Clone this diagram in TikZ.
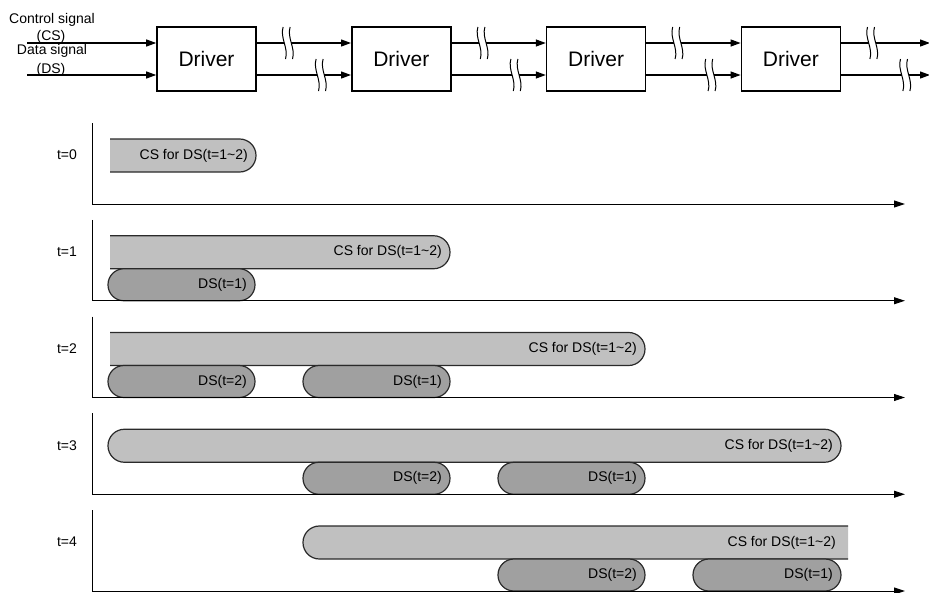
\documentclass[tikz,border=0pt]{standalone}
\usepackage{fontspec}
\setmainfont{Liberation Sans}
\usetikzlibrary{arrows.meta}
\definecolor{csgray}{HTML}{C0C0C0}
\definecolor{dsgray}{HTML}{A0A0A0}
\definecolor{edgec}{HTML}{2A2A2A}
\tikzset{
 driverbox/.style={draw, line width=1.6pt, minimum width=99pt, minimum height=64pt, inner sep=0pt, font=\fontsize{21}{24}\selectfont},
 sigline/.style={line width=1.2pt},
 sigarrow/.style={sigline, -{Triangle[length=10pt,width=7pt]}},
 axisline/.style={line width=1pt, -{Triangle[length=11pt,width=7pt]}},
 csbar/.style={draw=edgec, fill=csgray, line width=1.2pt, rounded corners=16.4pt},
 dsbar/.style={draw=edgec, fill=dsgray, line width=1.2pt, rounded corners=15.9pt},
 barlbl/.style={font=\fontsize{14}{16}\selectfont, anchor=east, inner sep=0pt},
 siglbl/.style={font=\fontsize{14}{16}\selectfont, anchor=base, inner sep=0pt},
 rowlbl/.style={font=\fontsize{14}{16}\selectfont, inner sep=0pt},
 brk/.pic={\foreach \dx in {-3.5,3.5}{\draw[line width=1pt] (\dx-1.2,-16) .. controls (\dx-4.5,-5) and (\dx+4.5,5) .. (\dx+1.2,16);}}
}
\begin{document}
\begin{tikzpicture}[x=1pt,y=-1pt]
\useasboundingbox (0,0) rectangle (929,592);
% ---- top: drivers ----
\node[driverbox] (d1) at (206.5,59) {Driver};
\node[driverbox] (d2) at (401.3,59) {Driver};
\node[driverbox] (d3) at (596.1,59) {Driver};
\node[driverbox] (d4) at (790.9,59) {Driver};
\coordinate (csin) at (27,43);
\coordinate (dsin) at (27,75);
\coordinate (d5) at (930,59);
\draw[sigarrow] (csin) -- (csin -| d1.west);
\draw[sigarrow] (dsin) -- (dsin -| d1.west);
\foreach \i/\j/\e in {1/2/d2.west,2/3/d3.west,3/4/d4.west,4/5/d5}{
  \path (d\i.east |- csin) ++(31,0) coordinate (cbk\i);
  \path (d\i.east |- dsin) ++(64,0) coordinate (dbk\i);
  \draw[sigline] (d\i.east |- csin) -- ([xshift=-3.5pt]cbk\i);
  \draw[sigarrow] ([xshift=3.5pt]cbk\i) -- (cbk\i -| \e);
  \draw[sigline] (d\i.east |- dsin) -- ([xshift=-3.5pt]dbk\i);
  \draw[sigarrow] ([xshift=3.5pt]dbk\i) -- (dbk\i -| \e);
  \pic at (cbk\i) {brk};
  \pic at (dbk\i) {brk};
}
\node[siglbl] (cslbl1) at (52,23) {Control signal};
\node[siglbl] (cslbl2) at (51,40) {(CS)};
\node[siglbl] (dslbl1) at (52,54) {Data signal};
\node[siglbl] (dslbl2) at (51,73) {(DS)};
% ---- timelines ----
\foreach \k in {0,...,4}{
  \pgfmathsetmacro\yb{204+96.75*\k}
  \coordinate (axt\k) at (92,\yb-81);
  \coordinate (axo\k) at (92,\yb);
  \coordinate (axe\k) at (905,\yb);
  \node[rowlbl] (lbl\k) at (67,\yb-49) {t=\k};
}
% row 0
\draw[csbar] (110,139) -- (256,139) -- (256,172) -- (110,172);
\node[barlbl] (cs0) at (248,155.5) {CS for DS(t=1\textasciitilde2)};
% row 1
\draw[csbar] (110,235.75) -- (450,235.75) -- (450,268.75) -- (110,268.75);
\node[barlbl] (cs1) at (442,252.25) {CS for DS(t=1\textasciitilde2)};
\draw[dsbar] (108,268.75) rectangle (255,300.75);
\node[barlbl] (ds1a) at (247,284.75) {DS(t=1)};
% row 2
\draw[csbar] (110,332.5) -- (645,332.5) -- (645,365.5) -- (110,365.5);
\node[barlbl] (cs2) at (637,349) {CS for DS(t=1\textasciitilde2)};
\draw[dsbar] (108,365.5) rectangle (255,397.5);
\node[barlbl] (ds2b) at (247,381.5) {DS(t=2)};
\draw[dsbar] (303,365.5) rectangle (450,397.5);
\node[barlbl] (ds2a) at (442,381.5) {DS(t=1)};
% row 3
\draw[csbar] (108,429.25) rectangle (841,462.25);
\node[barlbl] (cs3) at (833,445.75) {CS for DS(t=1\textasciitilde2)};
\draw[dsbar] (303,462.25) rectangle (450,494.25);
\node[barlbl] (ds3b) at (442,478.25) {DS(t=2)};
\draw[dsbar] (498,462.25) rectangle (645,494.25);
\node[barlbl] (ds3a) at (637,478.25) {DS(t=1)};
% row 4
\draw[csbar] (848,526) -- (303,526) -- (303,559) -- (848,559);
\node[barlbl] (cs4) at (836,542.5) {CS for DS(t=1\textasciitilde2)};
\draw[dsbar] (498,559) rectangle (645,591);
\node[barlbl] (ds4b) at (637,575) {DS(t=2)};
\draw[dsbar] (693,559) rectangle (841,591);
\node[barlbl] (ds4a) at (833,575) {DS(t=1)};
% axes
\foreach \k in {0,...,4}{
  \draw[axisline] (axt\k) -- (axo\k) -- (axe\k);
}
\end{tikzpicture}
\end{document}
